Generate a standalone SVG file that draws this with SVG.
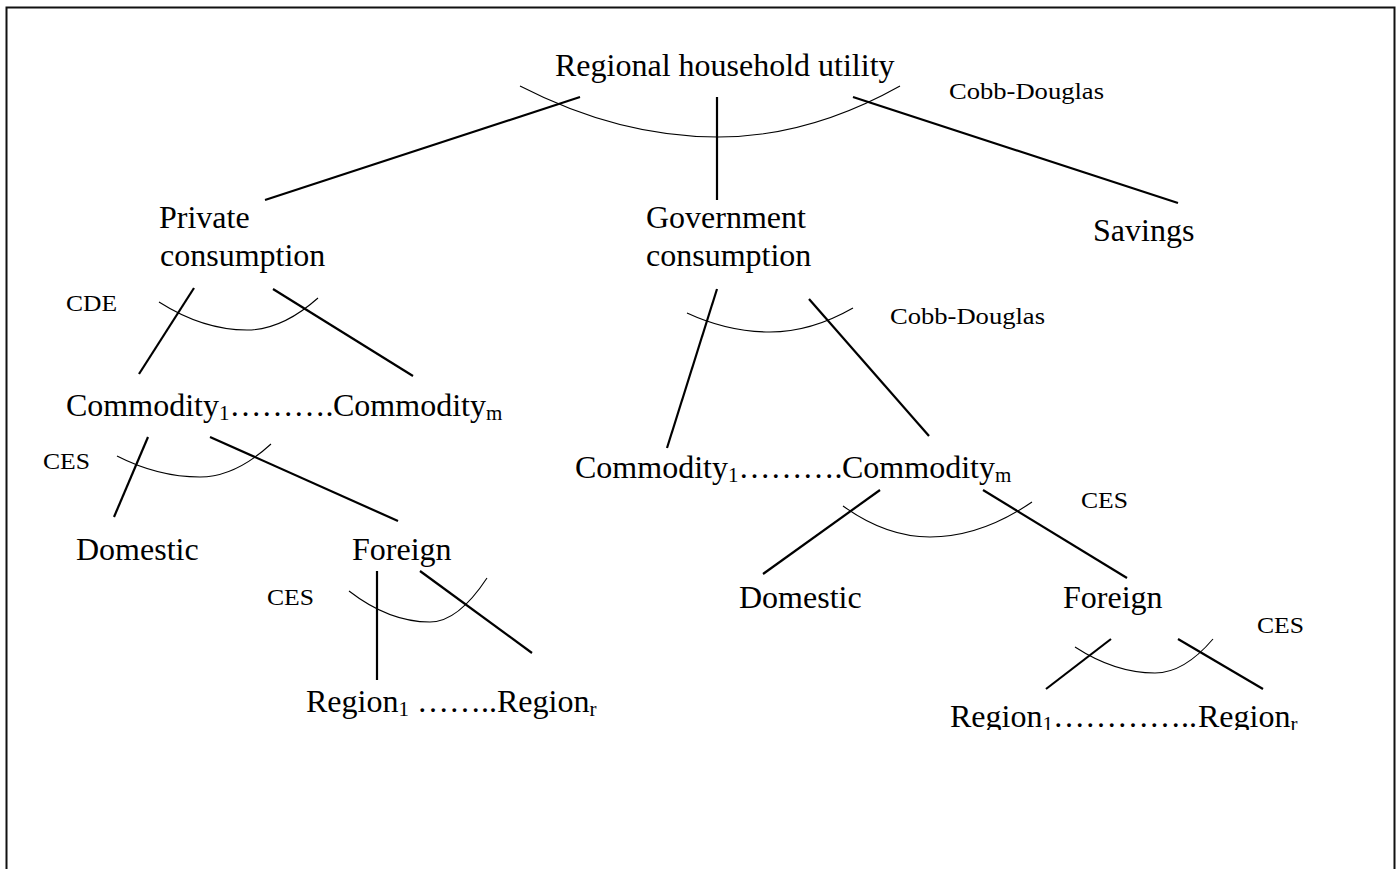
<svg xmlns="http://www.w3.org/2000/svg" width="1397" height="869" viewBox="0 0 1397 869">
<style>
.big{font-family:"Liberation Serif","Times New Roman",serif;font-size:32px;fill:#000}
.small{font-family:"Liberation Serif","Times New Roman",serif;font-size:24px;fill:#000}
.sub{font-size:21px}
.line{stroke:#000;stroke-width:2.2;fill:none;stroke-linecap:butt}
.arc{stroke:#000;stroke-width:1.1;fill:none}
.frame{stroke:#111;stroke-width:2;fill:none}
</style>
<defs>
<clipPath id="clipBottom"><rect x="900" y="680" width="450" height="50"/></clipPath>
</defs>
<rect x="0" y="0" width="1397" height="869" fill="#fff"/>
<path class="frame" d="M6.5,869 V7.5 H1394.5 V869"/>

<g id="connectors">
<line class="line" x1="580" y1="97" x2="265" y2="200"/>
<line class="line" x1="717" y1="97" x2="717" y2="200"/>
<line class="line" x1="853" y1="97" x2="1178" y2="203"/>
<path class="arc" d="M520,86 Q619,137 718,137 Q809,137 900,86"/>

<line class="line" x1="194" y1="288" x2="139" y2="374"/>
<line class="line" x1="273" y1="289" x2="413" y2="376"/>
<path class="arc" d="M159,302 Q203,330 247,330 Q282,330 318,298"/>

<line class="line" x1="717" y1="289" x2="667" y2="448"/>
<line class="line" x1="809" y1="299" x2="929" y2="436"/>
<path class="arc" d="M687,313 Q728,332 770,332 Q811,332 853,308"/>

<line class="line" x1="148" y1="437" x2="114" y2="517"/>
<line class="line" x1="210" y1="437" x2="398" y2="521"/>
<path class="arc" d="M117,456 Q158,477 200,477 Q235,477 271,444"/>

<line class="line" x1="377" y1="571" x2="377" y2="680"/>
<line class="line" x1="420" y1="571" x2="532" y2="653"/>
<path class="arc" d="M349,591 Q389,622 430,622 Q458,622 487,578"/>

<line class="line" x1="880" y1="490" x2="763" y2="574"/>
<line class="line" x1="983" y1="490" x2="1127" y2="578"/>
<path class="arc" d="M843,506 Q886,537 930,537 Q981,537 1032,502"/>

<line class="line" x1="1111" y1="639" x2="1046" y2="689"/>
<line class="line" x1="1178" y1="639" x2="1263" y2="689"/>
<path class="arc" d="M1075,647 Q1115,673 1155,673 Q1184,673 1213,639"/>
</g>

<g id="node-utility"><text class="big" x="555" y="76">Regional household utility</text></g>
<g id="label-cobb-top"><text class="small" x="949" y="99" textLength="155" lengthAdjust="spacingAndGlyphs">Cobb-Douglas</text></g>

<g id="node-private"><text class="big" x="159" y="228">Private</text><text class="big" x="160" y="266">consumption</text></g>
<g id="node-government"><text class="big" x="646" y="228">Government</text><text class="big" x="646" y="266">consumption</text></g>
<g id="node-savings"><text class="big" x="1093" y="241">Savings</text></g>

<g id="label-cde"><text class="small" x="66" y="311" textLength="51" lengthAdjust="spacingAndGlyphs">CDE</text></g>
<g id="node-commodity-private"><text class="big" x="66" y="416">Commodity<tspan class="sub" dy="4">1</tspan><tspan dy="-4">……….</tspan><tspan x="333">Commodity</tspan><tspan class="sub" dy="4">m</tspan></text></g>

<g id="label-cobb-gov"><text class="small" x="890" y="324" textLength="155" lengthAdjust="spacingAndGlyphs">Cobb-Douglas</text></g>
<g id="node-commodity-gov"><text class="big" x="575" y="478">Commodity<tspan class="sub" dy="4">1</tspan><tspan dy="-4">……….</tspan><tspan x="842">Commodity</tspan><tspan class="sub" dy="4">m</tspan></text></g>

<g id="label-ces-1"><text class="small" x="43" y="469" textLength="47" lengthAdjust="spacingAndGlyphs">CES</text></g>
<g id="node-domestic-private"><text class="big" x="76" y="560">Domestic</text></g>
<g id="node-foreign-private"><text class="big" x="352" y="560">Foreign</text></g>
<g id="label-ces-2"><text class="small" x="267" y="605" textLength="47" lengthAdjust="spacingAndGlyphs">CES</text></g>
<g id="node-region-private"><text class="big" x="306" y="712">Region<tspan class="sub" dy="4">1</tspan><tspan dy="-4"> ……..</tspan><tspan x="497">Region</tspan><tspan class="sub" dy="4">r</tspan></text></g>

<g id="label-ces-3"><text class="small" x="1081" y="508" textLength="47" lengthAdjust="spacingAndGlyphs">CES</text></g>
<g id="node-domestic-gov"><text class="big" x="739" y="608">Domestic</text></g>
<g id="node-foreign-gov"><text class="big" x="1063" y="608">Foreign</text></g>
<g id="label-ces-4"><text class="small" x="1257" y="633" textLength="47" lengthAdjust="spacingAndGlyphs">CES</text></g>
<g id="node-region-gov" clip-path="url(#clipBottom)"><text class="big" x="950" y="727">Region<tspan class="sub" dy="4">1</tspan><tspan dy="-4">…………..</tspan><tspan x="1198">Region</tspan><tspan class="sub" dy="4">r</tspan></text></g>
</svg>
